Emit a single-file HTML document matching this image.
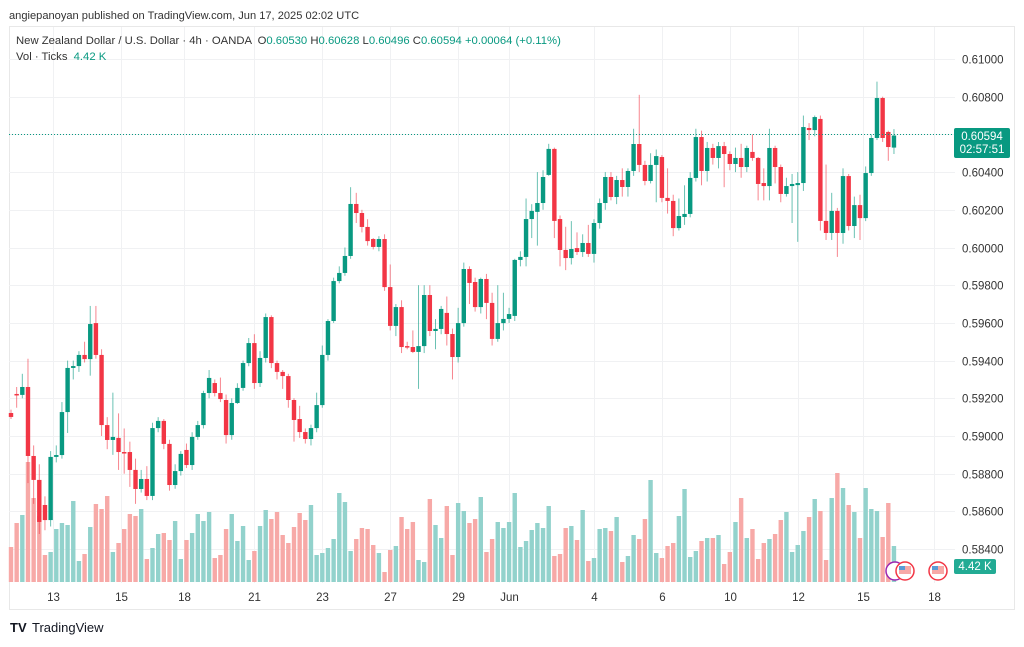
<!DOCTYPE html>
<html><head><meta charset="utf-8">
<style>
body{margin:0;background:#fff;width:1024px;height:642px;overflow:hidden;font-family:"Liberation Sans",sans-serif}
svg text{font-family:"Liberation Sans",sans-serif}
</style></head>
<body>
<svg id="chart" width="1024" height="642" viewBox="0 0 1024 642" xmlns="http://www.w3.org/2000/svg">
<text x="9" y="19" font-size="11.1" fill="#333">angiepanoyan published on TradingView.com, Jun 17, 2025 02:02 UTC</text>
<rect x="9.5" y="26.5" width="1005" height="583" fill="none" stroke="#e8e8e8"/>
<g id="grid"></g>
<g id="vol"></g>
<g id="candles"></g>
<g id="yaxis"></g>
<g id="xaxis"></g>
<text x="16" y="44" font-size="11.3" fill="#333">New Zealand Dollar / U.S. Dollar · 4h · OANDA <tspan dx="3">O</tspan><tspan fill="#089981">0.60530</tspan> <tspan>H</tspan><tspan fill="#089981">0.60628</tspan> <tspan>L</tspan><tspan fill="#089981">0.60496</tspan> <tspan>C</tspan><tspan fill="#089981">0.60594</tspan> <tspan fill="#089981">+0.00064 (+0.11%)</tspan></text>
<text x="16" y="60" font-size="11.3" fill="#333">Vol · Ticks <tspan fill="#089981" dx="3">4.42 K</tspan></text>
<line x1="9" x2="955" y1="134.5" y2="134.5" stroke="#089981" stroke-dasharray="1,2" stroke-width="1"/>
<rect x="954" y="128" width="56" height="30" rx="2" fill="#089981"/>
<text x="982" y="140" font-size="11.5" fill="#fff" text-anchor="middle">0.60594</text>
<text x="982" y="153" font-size="11.5" fill="#fff" text-anchor="middle">02:57:51</text>
<rect x="954" y="559" width="42" height="15" rx="2" fill="#22ab94"/>
<text x="975" y="570" font-size="11.5" fill="#fff" text-anchor="middle">4.42 K</text>
<g>
<circle cx="895" cy="571" r="9" fill="#fff" stroke="#9c27b0" stroke-width="1.5"/>
<circle cx="905" cy="571" r="9" fill="#fff" stroke="#f23645" stroke-width="1.5"/>
<rect x="899" y="566" width="12" height="8" fill="#f7a9a7"/><rect x="899" y="566" width="6" height="4" fill="#5b9bd5"/>
<circle cx="938" cy="571" r="9" fill="#fff" stroke="#f23645" stroke-width="1.5"/>
<rect x="932" y="566" width="12" height="8" fill="#f7a9a7"/><rect x="932" y="566" width="6" height="4" fill="#5b9bd5"/>
</g>
<g>
<text x="10" y="632" font-size="13" font-weight="bold" fill="#131722">TV</text>
<text x="32" y="632" font-size="13" fill="#131722">TradingView</text>
</g>
</svg>
<script>
const opens=[0.59122,0.59223,0.59218,0.59260,0.58894,0.58767,0.58634,0.58554,0.58889,0.58899,0.59127,0.59361,0.59371,0.59430,0.59408,0.59599,0.59430,0.59058,0.58979,0.58990,0.58915,0.58915,0.58820,0.58719,0.58772,0.58682,0.59042,0.59080,0.58958,0.58740,0.58814,0.58926,0.58846,0.58995,0.59058,0.59228,0.59281,0.59228,0.59191,0.59005,0.59175,0.59255,0.59387,0.59493,0.59281,0.59414,0.59631,0.59387,0.59340,0.59318,0.59191,0.59090,0.59021,0.58984,0.59042,0.59164,0.59430,0.59610,0.59822,0.59865,0.59955,0.60231,0.60183,0.60109,0.60045,0.60003,0.60045,0.59790,0.59584,0.59684,0.59477,0.59472,0.59446,0.59477,0.59748,0.59557,0.59568,0.59653,0.59541,0.59419,0.59599,0.59886,0.59817,0.59684,0.59833,0.59706,0.59515,0.59599,0.59621,0.59637,0.59934,0.59950,0.60151,0.60189,0.60236,0.60385,0.60523,0.60151,0.59987,0.59944,0.59997,0.59976,0.60024,0.59966,0.60130,0.60236,0.60374,0.60268,0.60358,0.60321,0.60406,0.60549,0.60438,0.60353,0.60438,0.60480,0.60263,0.60247,0.60103,0.60162,0.60178,0.60369,0.60586,0.60406,0.60528,0.60475,0.60538,0.60496,0.60443,0.60475,0.60427,0.60507,0.60475,0.60342,0.60326,0.60528,0.60427,0.60284,0.60326,0.60331,0.60342,0.60634,0.60623,0.60682,0.60141,0.60077,0.60194,0.60077,0.60379,0.60114,0.60225,0.60156,0.60395,0.60581,0.60793,0.60613,0.60530];
const closes=[0.59101,0.59218,0.59260,0.58894,0.58767,0.58544,0.58554,0.58889,0.58899,0.59127,0.59361,0.59371,0.59430,0.59408,0.59594,0.59430,0.59058,0.58979,0.58995,0.58915,0.58910,0.58820,0.58719,0.58772,0.58682,0.59042,0.59080,0.58958,0.58740,0.58814,0.58905,0.58846,0.58995,0.59058,0.59228,0.59308,0.59228,0.59196,0.59005,0.59175,0.59255,0.59387,0.59493,0.59281,0.59414,0.59631,0.59387,0.59340,0.59318,0.59191,0.59085,0.59021,0.58984,0.59042,0.59164,0.59430,0.59610,0.59822,0.59865,0.59955,0.60231,0.60183,0.60109,0.60034,0.60003,0.60045,0.59790,0.59584,0.59684,0.59472,0.59472,0.59446,0.59477,0.59748,0.59557,0.59568,0.59674,0.59541,0.59419,0.59599,0.59886,0.59812,0.59684,0.59833,0.59706,0.59515,0.59599,0.59621,0.59647,0.59934,0.59950,0.60151,0.60194,0.60236,0.60374,0.60523,0.60141,0.59987,0.59944,0.59992,0.59976,0.60024,0.59966,0.60130,0.60236,0.60374,0.60268,0.60358,0.60321,0.60406,0.60549,0.60438,0.60353,0.60438,0.60485,0.60263,0.60247,0.60103,0.60167,0.60178,0.60369,0.60586,0.60406,0.60528,0.60475,0.60538,0.60496,0.60443,0.60475,0.60427,0.60528,0.60475,0.60337,0.60326,0.60528,0.60427,0.60284,0.60326,0.60337,0.60342,0.60639,0.60623,0.60692,0.60141,0.60077,0.60194,0.60077,0.60379,0.60114,0.60225,0.60156,0.60395,0.60581,0.60793,0.60581,0.60533,0.60594];
const highs=[0.59140,0.59260,0.59330,0.59410,0.58950,0.58850,0.58680,0.58920,0.58950,0.59180,0.59400,0.59400,0.59450,0.59500,0.59690,0.59690,0.59460,0.59100,0.59230,0.59120,0.59040,0.58970,0.58880,0.58820,0.58840,0.59070,0.59100,0.59090,0.58980,0.58850,0.58920,0.58960,0.59020,0.59080,0.59240,0.59350,0.59300,0.59310,0.59220,0.59200,0.59280,0.59400,0.59520,0.59540,0.59450,0.59650,0.59640,0.59400,0.59350,0.59330,0.59200,0.59160,0.59040,0.59060,0.59230,0.59480,0.59620,0.59840,0.59900,0.60000,0.60320,0.60290,0.60200,0.60150,0.60050,0.60060,0.60070,0.59910,0.59700,0.59720,0.59500,0.59560,0.59800,0.59800,0.59800,0.59620,0.59690,0.59740,0.59570,0.59680,0.59920,0.59900,0.59840,0.59840,0.59860,0.59760,0.59800,0.59760,0.59680,0.59940,0.59980,0.60260,0.60230,0.60400,0.60410,0.60550,0.60530,0.60170,0.60110,0.60140,0.60080,0.60070,0.60120,0.60150,0.60260,0.60400,0.60400,0.60380,0.60420,0.60420,0.60630,0.60810,0.60460,0.60500,0.60520,0.60490,0.60420,0.60280,0.60260,0.60330,0.60400,0.60630,0.60620,0.60560,0.60550,0.60560,0.60560,0.60510,0.60530,0.60550,0.60540,0.60600,0.60480,0.60420,0.60630,0.60540,0.60440,0.60370,0.60390,0.60400,0.60700,0.60660,0.60700,0.60700,0.60440,0.60290,0.60210,0.60420,0.60390,0.60270,0.60280,0.60430,0.60600,0.60880,0.60800,0.60620,0.60628];
const lows=[0.59090,0.59150,0.59200,0.58750,0.58640,0.58480,0.58500,0.58520,0.58860,0.58880,0.59016,0.59300,0.59340,0.59390,0.59320,0.59410,0.59000,0.58930,0.58900,0.58820,0.58800,0.58730,0.58640,0.58700,0.58660,0.58660,0.59020,0.58930,0.58710,0.58720,0.58790,0.58830,0.58820,0.58980,0.59040,0.59200,0.59210,0.59180,0.58960,0.58980,0.59170,0.59240,0.59370,0.59250,0.59260,0.59390,0.59360,0.59300,0.59250,0.59150,0.58970,0.58990,0.58960,0.58950,0.59020,0.59150,0.59400,0.59600,0.59810,0.59850,0.59940,0.60130,0.60080,0.60010,0.59990,0.59980,0.59770,0.59560,0.59530,0.59440,0.59460,0.59440,0.59250,0.59440,0.59530,0.59460,0.59540,0.59480,0.59300,0.59390,0.59580,0.59700,0.59660,0.59650,0.59620,0.59480,0.59500,0.59560,0.59600,0.59610,0.59900,0.59900,0.60050,0.60010,0.60200,0.60380,0.60050,0.59900,0.59880,0.59910,0.59960,0.59950,0.59950,0.59920,0.60100,0.60200,0.60250,0.60230,0.60270,0.60270,0.60380,0.60400,0.60330,0.60340,0.60240,0.60240,0.60180,0.60060,0.60090,0.60120,0.60160,0.60350,0.60330,0.60350,0.60440,0.60420,0.60320,0.60410,0.60400,0.60370,0.60400,0.60460,0.60250,0.60250,0.60250,0.60340,0.60240,0.60270,0.60130,0.60030,0.60300,0.60570,0.60590,0.60090,0.60040,0.60040,0.59950,0.60020,0.60090,0.60050,0.60040,0.60140,0.60380,0.60570,0.60560,0.60460,0.60496];
const volumesK=[3.5,5.9,6.7,12.0,8.4,6.6,2.7,3.0,5.3,5.9,5.7,8.1,2.1,2.8,5.5,7.8,7.3,8.6,3.0,3.9,5.3,6.8,6.6,7.3,2.3,3.4,4.8,4.9,4.2,6.1,2.3,4.2,4.9,6.8,6.1,7.0,2.4,2.7,5.3,6.8,4.1,5.6,2.2,3.1,5.6,7.2,6.3,7.0,4.7,3.9,5.5,6.9,6.2,7.7,2.7,2.9,3.4,4.3,8.9,8.0,3.1,4.3,5.4,5.3,3.7,2.9,1.0,3.2,3.6,6.5,5.3,6.0,2.2,2.0,8.3,5.7,4.4,7.6,2.7,7.9,7.1,5.9,6.3,8.5,3.0,4.3,6.0,5.4,6.0,8.9,3.5,4.1,5.2,5.9,5.4,7.6,2.6,2.8,5.4,5.6,4.2,7.2,2.1,2.4,5.3,5.4,5.1,6.5,2.0,2.6,4.7,4.3,6.3,10.2,2.9,2.4,3.6,3.9,6.6,9.3,2.5,3.1,4.1,4.4,4.4,4.7,1.8,3.0,6.0,8.4,4.4,5.3,2.3,3.9,4.3,4.8,6.2,7.0,3.0,3.7,5.1,6.5,8.3,7.1,2.2,8.4,10.9,9.4,7.7,7.0,4.4,9.4,7.3,7.1,4.5,7.9,3.6,4.4];
const priceTicks=["0.61000","0.60800","0.60600","0.60400","0.60200","0.60000","0.59800","0.59600","0.59400","0.59200","0.59000","0.58800","0.58600","0.58400"];
const dateLabels=["13","15","18","21","23","27","29","Jun","4","6","10","12","15","18"];
const dateIndex=[7.5,19.5,30.5,43,55,67,79,88,103,115,127,139,150.5,163];

const NS="http://www.w3.org/2000/svg";
const X0=11,STEP=5.66,Y_TOP=59,PX_PER=18850,P_TOP=0.61,V_BASE=582,V_SCALE=10;
const xOf=i=>X0+i*STEP;
const yOf=p=>Y_TOP+(P_TOP-p)*PX_PER;
const vh=v=>v*V_SCALE;
function mk(tag,attrs,parent){const e=document.createElementNS(NS,tag);for(const k in attrs)e.setAttribute(k,attrs[k]);parent.appendChild(e);return e;}
const grid=document.getElementById('grid'),yax=document.getElementById('yaxis'),xax=document.getElementById('xaxis');
priceTicks.forEach(t=>{const y=Math.round(yOf(parseFloat(t)))+0.5;
 const l=mk('line',{x1:9,x2:955,y1:y,y2:y,stroke:'#f0f1f3'},grid);
 
 
 const tx=mk('text',{x:962,y:y+4,'font-size':11.5,fill:'#333'},yax);tx.textContent=t;
 
 });
dateLabels.forEach((d,k)=>{const x=Math.round(xOf(dateIndex[k]))+0.5;
 const l=mk('line',{x1:x,x2:x,y1:27,y2:583,stroke:'#f0f1f3'},grid);
 
 
 const tx=mk('text',{x:x,y:601,'font-size':11.5,fill:'#333','text-anchor':'middle'},xax);tx.textContent=d;
 
 });
const vg=document.getElementById('vol'),cg=document.getElementById('candles');
closes.forEach((c,i)=>{const o=opens[i],up=c>=o,x=xOf(i);
 const h=vh(volumesK[i]);
 const vb=mk('rect',{x:(x-2.2).toFixed(2),y:(V_BASE-h).toFixed(2),width:4.4,height:h.toFixed(2),fill:up?'#92d2cc':'#f7a9a7'},vg);
 
 
 const col=up?'#089981':'#f23645';
 const w=mk('line',{x1:x,x2:x,y1:yOf(highs[i]).toFixed(2),y2:yOf(lows[i]).toFixed(2),stroke:col,'stroke-width':1,opacity:0.6},cg);
 
 
 const t=Math.min(yOf(o),yOf(c)),bh=Math.max(1.5,Math.abs(yOf(o)-yOf(c)));
 const b=mk('rect',{x:(x-2.2).toFixed(2),y:t.toFixed(2),width:4.4,height:bh.toFixed(2),fill:col},cg);
 
 });
</script>
</body></html>
